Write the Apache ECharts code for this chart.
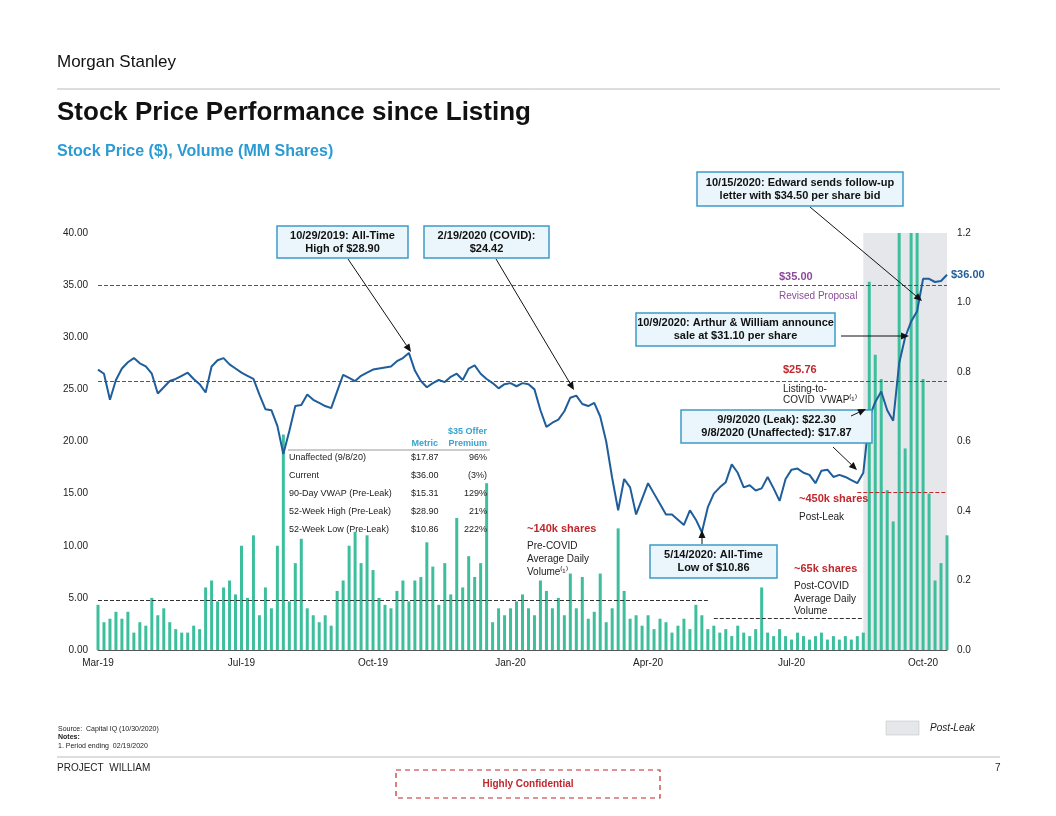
<!DOCTYPE html>
<html><head><meta charset="utf-8">
<script src="https://cdn.jsdelivr.net/npm/echarts@6/dist/echarts.min.js"></script>
<style>html,body{margin:0;padding:0;background:#fff}#c{width:1056px;height:816px}</style>
</head><body><div id="c"></div>
<script>
// price ($) and volume (MM shares), roughly one point per ~3 trading days
const price = [26.9,26.5,24.0,25.9,27.0,27.6,28.0,27.5,27.2,26.5,24.6,25.2,25.8,26.0,26.3,26.6,26.0,25.5,24.7,27.2,
  27.8,28.0,27.4,27.0,26.6,26.3,26.0,24.5,23.1,23.0,21.5,18.8,21.0,23.4,23.5,24.5,24.0,23.7,23.4,23.2,
  24.8,26.4,26.1,25.8,26.3,26.6,26.9,27.0,27.1,27.2,27.7,28.0,28.5,26.8,25.8,25.2,25.6,25.9,25.7,26.2,
  26.5,25.9,27.0,27.3,26.5,26.0,25.6,25.1,25.5,25.6,25.3,25.6,25.5,25.0,23.0,21.4,21.8,22.1,22.9,24.2,
  24.4,23.6,23.4,23.7,22.4,20.0,16.5,13.4,16.4,15.6,13.0,14.5,16.0,15.0,14.0,13.0,13.0,12.5,12.0,13.4,
  12.5,11.3,13.7,15.0,15.6,16.1,17.8,17.0,15.6,15.8,15.3,15.5,16.6,15.5,14.3,16.4,17.3,17.4,17.0,16.8,
  16.0,17.2,17.3,16.6,16.8,16.6,16.3,16.0,17.0,22.3,23.8,24.8,23.0,22.0,27.5,30.0,31.5,32.5,35.6,35.6,
  35.3,35.4,36.0];
const volume = [0.13,0.08,0.09,0.11,0.09,0.11,0.05,0.08,0.07,0.15,0.10,0.12,0.08,0.06,0.05,0.05,0.07,0.06,0.18,0.20,
  0.14,0.18,0.20,0.16,0.30,0.15,0.33,0.10,0.18,0.12,0.30,0.62,0.14,0.25,0.32,0.12,0.10,0.08,0.10,0.07,
  0.17,0.20,0.30,0.34,0.25,0.33,0.23,0.15,0.13,0.12,0.17,0.20,0.14,0.20,0.21,0.31,0.24,0.13,0.25,0.16,
  0.38,0.18,0.27,0.21,0.25,0.48,0.08,0.12,0.10,0.12,0.14,0.16,0.12,0.10,0.20,0.17,0.12,0.15,0.10,0.22,
  0.12,0.21,0.09,0.11,0.22,0.08,0.12,0.35,0.17,0.09,0.10,0.07,0.10,0.06,0.09,0.08,0.05,0.07,0.09,0.06,
  0.13,0.10,0.06,0.07,0.05,0.06,0.04,0.07,0.05,0.04,0.06,0.18,0.05,0.04,0.06,0.04,0.03,0.05,0.04,0.03,
  0.04,0.05,0.03,0.04,0.03,0.04,0.03,0.04,0.05,1.06,0.85,0.78,0.46,0.37,1.20,0.58,1.20,1.20,0.78,0.45,
  0.20,0.25,0.33];
const tickLabels = ['Mar-19','Jul-19','Oct-19','Jan-20','Apr-20','Jul-20','Oct-20'];
const tickIdx = [0,24,46,69,92,116,138];
const categories = price.map((_, i) => String(i));
const leakStart = 128;

const F = '"Liberation Sans", Arial, sans-serif';
const chart = echarts.init(document.getElementById('c'));

const T = (x, y, s, o = {}) => ({type:'text', x:x, y:y, silent:true, z:20,
  style:{text:s, font:(o.i?'italic ':'')+(o.w||'normal')+' '+(o.s||10)+'px '+F, fill:o.c||'#222', align:o.a||'left', verticalAlign:'middle'}});
const box = (x1, y1, x2, y2, lines) => [
  {type:'rect', shape:{x:x1, y:y1, width:x2-x1, height:y2-y1}, style:{fill:'#eaf6fb', stroke:'#3d9ac9', lineWidth:1.5}, z:10},
  ...lines.map((l, k) => ({type:'text', x:(x1+x2)/2, y:(y1+y2)/2 + (k-(lines.length-1)/2)*13, z:11,
    style:{text:l, font:'bold 11px '+F, fill:'#111', align:'center', verticalAlign:'middle'}}))];
const arrow = (x1, y1, x2, y2) => {
  const a = Math.atan2(y2-y1, x2-x1), L = 8, W = 3.5;
  const bx = x2 - L*Math.cos(a), by = y2 - L*Math.sin(a);
  return [
    {type:'line', shape:{x1, y1, x2:bx, y2:by}, style:{stroke:'#111', lineWidth:1}, z:12},
    {type:'polygon', shape:{points:[[x2,y2],[bx - W*Math.sin(a), by + W*Math.cos(a)],[bx + W*Math.sin(a), by - W*Math.cos(a)]]}, style:{fill:'#111'}, z:12}];
};
const hline = (x1, x2, y, c, w) => ({type:'line', shape:{x1, y1:y, x2, y2:y}, style:{stroke:c, lineWidth:w||1}});

const table = [
  ['Unaffected (9/8/20)', '$17.87', '96%'],
  ['Current', '$36.00', '(3%)'],
  ['90-Day VWAP (Pre-Leak)', '$15.31', '129%'],
  ['52-Week High (Pre-Leak)', '$28.90', '21%'],
  ['52-Week Low (Pre-Leak)', '$10.86', '222%']
];

const graphics = [
  T(57, 62, 'Morgan Stanley', {s:17, c:'#111'}),
  hline(57, 1000, 89, '#bbb'),
  T(57, 113, 'Stock Price Performance since Listing', {s:26, w:'bold', c:'#111'}),
  T(57, 152, 'Stock Price ($), Volume (MM Shares)', {s:16, w:'bold', c:'#2b9bd3'}),
  // table
  T(438, 444, 'Metric', {s:9, w:'bold', c:'#37a3cf', a:'right'}),
  T(487, 432, '$35 Offer', {s:9, w:'bold', c:'#37a3cf', a:'right'}),
  T(487, 444, 'Premium', {s:9, w:'bold', c:'#37a3cf', a:'right'}),
  hline(288, 490, 450, '#999'),
  ...table.flatMap((r, k) => [T(289, 458+k*18, r[0], {s:9}), T(411, 458+k*18, r[1], {s:9}), T(487, 458+k*18, r[2], {s:9, a:'right'})]),
  // side notes
  T(527, 529, '~140k shares', {s:11, w:'bold', c:'#c0282d'}),
  T(527, 546, 'Pre-COVID', {}), T(527, 559, 'Average Daily', {}), T(527, 572, 'Volume⁽¹⁾', {}),
  T(794, 569, '~65k shares', {s:11, w:'bold', c:'#c0282d'}),
  T(794, 586, 'Post-COVID', {}), T(794, 599, 'Average Daily', {}), T(794, 611, 'Volume', {}),
  T(799, 499, '~450k shares', {s:11, w:'bold', c:'#c0282d'}),
  T(799, 517, 'Post-Leak', {}),
  T(783, 370, '$25.76', {s:11, w:'bold', c:'#c0282d'}),
  T(783, 389, 'Listing-to-', {}), T(783, 400, 'COVID  VWAP⁽¹⁾', {}),
  T(779, 277, '$35.00', {s:11, w:'bold', c:'#8b4b9b'}),
  T(779, 296, 'Revised Proposal', {c:'#8b4b9b'}),
  T(951, 275, '$36.00', {s:11, w:'bold', c:'#1f5e9b'}),
  // annotation boxes
  ...box(277, 226, 408, 258, ['10/29/2019: All-Time', 'High of $28.90']), ...arrow(348, 259, 411, 352),
  ...box(424, 226, 549, 258, ['2/19/2020 (COVID):', '$24.42']), ...arrow(496, 259, 574, 390),
  ...box(697, 172, 903, 206, ['10/15/2020: Edward sends follow-up', 'letter with $34.50 per share bid']), ...arrow(810, 207, 922, 301),
  ...box(636, 313, 835, 346, ['10/9/2020: Arthur & William announce', 'sale at $31.10 per share']), ...arrow(841, 336, 909, 336),
  ...box(681, 410, 872, 443, ['9/9/2020 (Leak): $22.30', '9/8/2020 (Unaffected): $17.87']),
  ...arrow(833, 447, 857, 470), ...arrow(851, 416, 866, 409),
  ...box(650, 545, 777, 578, ['5/14/2020: All-Time', 'Low of $10.86']), ...arrow(702, 544, 702, 530),
  // footer
  T(58, 729, 'Source:  Capital IQ (10/30/2020)', {s:7}),
  T(58, 737, 'Notes:', {s:7, w:'bold'}),
  T(58, 746, '1. Period ending  02/19/2020', {s:7}),
  {type:'rect', shape:{x:886, y:721, width:33, height:14}, style:{fill:'#e6e7ea', stroke:'#bbb', lineWidth:0.5}},
  T(930, 728, 'Post-Leak', {s:10, i:true}),
  hline(57, 1000, 757, '#bbb'),
  T(57, 768, 'PROJECT  WILLIAM', {s:10}),
  T(995, 768, '7', {s:10}),
  {type:'rect', shape:{x:396, y:770, width:264, height:28}, style:{fill:'none', stroke:'#c0282d', lineWidth:1.2, lineDash:[5,4]}},
  T(528, 784, 'Highly Confidential', {s:10, w:'bold', c:'#c0282d', a:'center'})
];

chart.setOption({
  animation:false,
  textStyle:{fontFamily:F},
  grid:{left:98, right:109, top:233, bottom:166},
  xAxis:{type:'category', data:categories, boundaryGap:false,
    axisLine:{lineStyle:{color:'#555'}}, axisTick:{show:false},
    axisLabel:{color:'#222', fontSize:10, margin:8,
      interval:(i) => tickIdx.includes(i),
      formatter:(v) => tickLabels[tickIdx.indexOf(Number(v))] || ''}},
  yAxis:[
    {type:'value', min:0, max:40, interval:5, splitLine:{show:false},
     axisLabel:{color:'#222', fontSize:10, formatter:(v) => v.toFixed(2), margin:10}},
    {type:'value', min:0, max:1.2, interval:0.2, splitLine:{show:false},
     axisLabel:{color:'#222', fontSize:10, formatter:(v) => v.toFixed(1), margin:10}}
  ],
  series:[
    {type:'bar', yAxisIndex:1, data:volume, barWidth:3, itemStyle:{color:'#3dbf9d'}, z:2,
     markLine:{silent:true, symbol:'none', label:{show:false}, lineStyle:{type:'dashed', color:'#333', width:1},
       data:[
         [{coord:[0, 0.144]}, {coord:[102, 0.144]}],
         [{coord:[103, 0.092]}, {coord:[leakStart, 0.092]}],
         [{coord:[127, 0.455], lineStyle:{color:'#c0282d'}}, {coord:[categories.length - 1, 0.455]}]
       ]}},
    {type:'line', yAxisIndex:0, data:price, showSymbol:false, lineStyle:{color:'#1f5e9b', width:2}, z:5,
     markArea:{silent:true, itemStyle:{color:'#e6e7ea'}, z:1,
       data:[[{coord:[String(leakStart), 41]}, {coord:[categories[categories.length - 1], 0]}]]},
     markLine:{silent:true, symbol:'none', label:{show:false},
       data:[{yAxis:25.76, lineStyle:{type:'dashed', color:'#c0282d', width:1}},
             {yAxis:35, lineStyle:{type:'dashed', color:'#555', width:1}}]}}
  ],
  graphic:graphics
});
</script></body></html>
